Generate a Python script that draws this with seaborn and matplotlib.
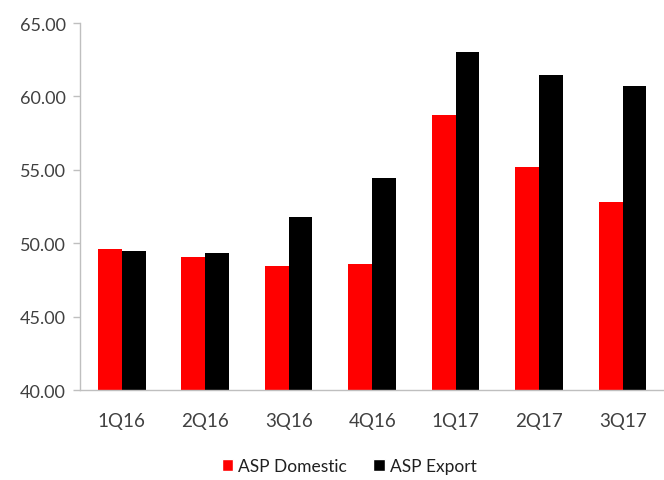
import numpy as np
import pandas as pd
import matplotlib
matplotlib.use("Agg")
import matplotlib.pyplot as plt
import seaborn as sns

quarters = ["1Q16", "2Q16", "3Q16", "4Q16", "1Q17", "2Q17", "3Q17"]
asp_domestic = [49.6, 49.05, 48.43, 48.58, 58.75, 55.2, 52.78]
asp_export = [49.5, 49.33, 51.78, 54.44, 63.0, 61.46, 60.69]
series_names = ["ASP Domestic", "ASP Export"]
y_ticks = [40, 45, 50, 55, 60, 65]

df = pd.DataFrame({
    "quarter": quarters * 2,
    "value": asp_domestic + asp_export,
    "series": [series_names[0]] * len(quarters) + [series_names[1]] * len(quarters),
})

sns.set_theme(style="white")
plt.rcParams["font.family"] = ["Lato", "DejaVu Sans"]

fig = plt.figure(figsize=(6.64, 4.81), dpi=100)
ax = fig.add_axes([0.1205, 0.187, 0.88, 0.763])

sns.barplot(data=df, x="quarter", y="value", hue="series", order=quarters,
            hue_order=series_names, palette=["#ff0000", "#000000"],
            width=0.57, gap=0, saturation=1, errorbar=None, linewidth=0,
            ax=ax, legend=False)

ax.set_ylim(40, 65)
ax.set_xlim(-0.5, len(quarters) - 0.5)
ax.set_yticks(y_ticks)
ax.set_yticklabels([f"{v:.2f}" for v in y_ticks])
ax.set_xlabel("")
ax.set_ylabel("")

grey = "#bfbfbf"
for side in ["top", "right"]:
    ax.spines[side].set_visible(False)
for side in ["left", "bottom"]:
    ax.spines[side].set_color(grey)
    ax.spines[side].set_linewidth(1.0)

ax.set_xticks(np.arange(-0.5, len(quarters), 1), minor=True)
ax.tick_params(axis="x", which="major", length=0, pad=16, labelsize=13.5, labelcolor="#404040")
ax.tick_params(axis="x", which="minor", length=6, color=grey, width=1, direction="out")
ax.tick_params(axis="y", which="major", length=5, color=grey, width=1, direction="out",
               pad=5, labelsize=13, labelcolor="#404040")
ax.tick_params(left=True, bottom=True)

handles = [plt.Rectangle((0, 0), 1, 1, facecolor=c) for c in ["#ff0000", "#000000"]]
fig.legend(handles, series_names, loc="center", bbox_to_anchor=(0.526, 0.029), ncol=2,
           frameon=False, handlelength=0.65, handleheight=0.7, handletextpad=0.3,
           columnspacing=1.5, fontsize=12.5, labelcolor="#202020")

fig.savefig("out.png", dpi=100)
